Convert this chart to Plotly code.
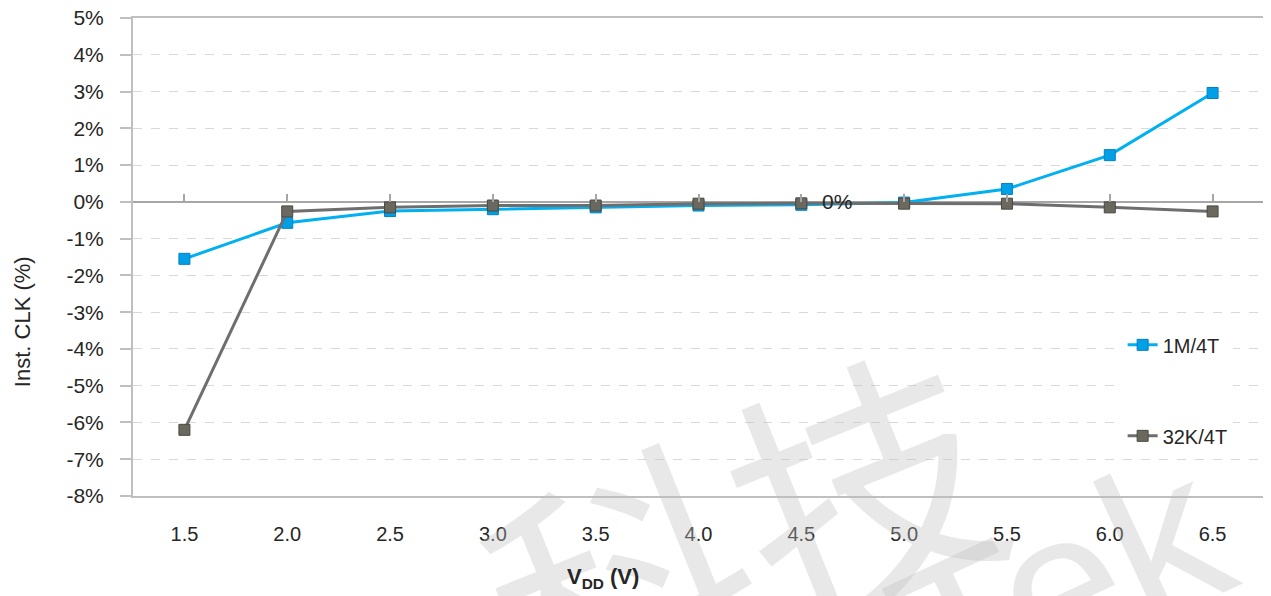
import plotly.graph_objects as go

vdd = ["1.5", "2.0", "2.5", "3.0", "3.5", "4.0", "4.5", "5.0", "5.5", "6.0", "6.5"]
clk_1m = [-1.55, -0.57, -0.25, -0.2, -0.15, -0.1, -0.08, -0.02, 0.35, 1.27, 2.96]
clk_32k = [-6.2, -0.26, -0.15, -0.1, -0.1, -0.05, -0.04, -0.05, -0.05, -0.15, -0.26]
y_ticks = [5, 4, 3, 2, 1, 0, -1, -2, -3, -4, -5, -6, -7, -8]
y_labels = ["5%", "4%", "3%", "2%", "1%", "0%", "-1%", "-2%", "-3%", "-4%", "-5%", "-6%", "-7%", "-8%"]

FONT = "Arial, Liberation Sans, sans-serif"
TXT = "#262626"
WM = "rgba(190,190,190,0.36)"

fig = go.Figure()
fig.add_trace(go.Scatter(
    x=vdd, y=clk_1m, name="1M/4T", mode="lines+markers",
    line=dict(color="#00b0f0", width=3),
    marker=dict(symbol="square", size=11, color="#009fe6", line=dict(color="#0080c8", width=1)),
    legendgroup="a",
))
fig.add_trace(go.Scatter(
    x=vdd, y=clk_32k, name="32K/4T", mode="lines+markers",
    line=dict(color="#6e6e6e", width=3),
    marker=dict(symbol="square", size=11, color="#6b695f", line=dict(color="#4a4a3e", width=1)),
    legendgroup="b",
))
# helper trace for the tick marks on the 0% line
fig.add_trace(go.Scatter(x=vdd, y=clk_1m, xaxis="x2", mode="markers",
                         marker=dict(opacity=0), showlegend=False, hoverinfo="skip"))

fig.update_layout(
    width=1263, height=588,
    margin=dict(l=125, r=7, t=10, b=100, autoexpand=False),
    paper_bgcolor="white", plot_bgcolor="white",
    font=dict(family=FONT, color=TXT),
    xaxis=dict(
        type="category", categoryarray=vdd, range=[-0.5, 10.5],
        showline=True, linecolor="#bfbfbf", linewidth=2, mirror=True,
        showgrid=False, ticks="", tickfont=dict(size=20, color=TXT),
        ticklabelstandoff=19, automargin=False,
    ),
    xaxis2=dict(
        type="category", categoryarray=vdd, range=[-0.5, 10.5],
        overlaying="x", anchor="free", position=8/13,
        showline=False, showgrid=False, showticklabels=False,
        ticks="inside", ticklen=8, tickcolor="#a6a6a6", tickwidth=1.5,
        automargin=False,
    ),
    yaxis=dict(
        range=[-8, 5], tickvals=y_ticks, ticktext=y_labels,
        showline=True, linecolor="#bfbfbf", linewidth=2, mirror=True,
        ticks="outside", ticklen=11, tickcolor="#bfbfbf", tickwidth=1.5,
        showgrid=True, gridcolor="#d9d9d9", griddash="dash", gridwidth=1,
        zeroline=True, zerolinecolor="#a6a6a6", zerolinewidth=2,
        tickfont=dict(size=21, color=TXT), ticklabelstandoff=12,
        ticklabeloverflow="allow", automargin=False,
    ),
    showlegend=True,
    legend=dict(
        x=0.875, y=0.357, xanchor="left", yanchor="top",
        bgcolor="white", font=dict(size=20, color=TXT),
        traceorder="grouped", tracegroupgap=62,
    ),
    annotations=[
        dict(text="科技", xref="paper", yref="paper", x=0.535, y=-0.06,
             xanchor="center", yanchor="middle",
             showarrow=False, textangle=-22, font=dict(family="Noto Sans CJK SC", size=260, color=WM)),
        dict(text="Tek", xref="paper", yref="paper", x=0.82, y=-0.19,
             xanchor="center", yanchor="middle",
             showarrow=False, textangle=-25, font=dict(family=FONT, size=215, color=WM)),
        dict(text="0%", x=6.35, y=0, xref="x", yref="y", showarrow=False,
             xanchor="center", yanchor="middle",
             font=dict(size=21, color=TXT)),
        dict(text="Inst. CLK (%)", xref="paper", yref="paper", x=-0.098, y=0.364,
             xanchor="center", yanchor="middle",
             showarrow=False, textangle=-90, font=dict(size=22, color=TXT)),
        dict(text="<b>V<sub>DD</sub> (V)</b>", xref="paper", yref="paper", x=0.4155, y=-0.1715,
             xanchor="center", yanchor="middle",
             showarrow=False, font=dict(size=22, color=TXT)),
    ],
)

fig.write_html("out.html")
